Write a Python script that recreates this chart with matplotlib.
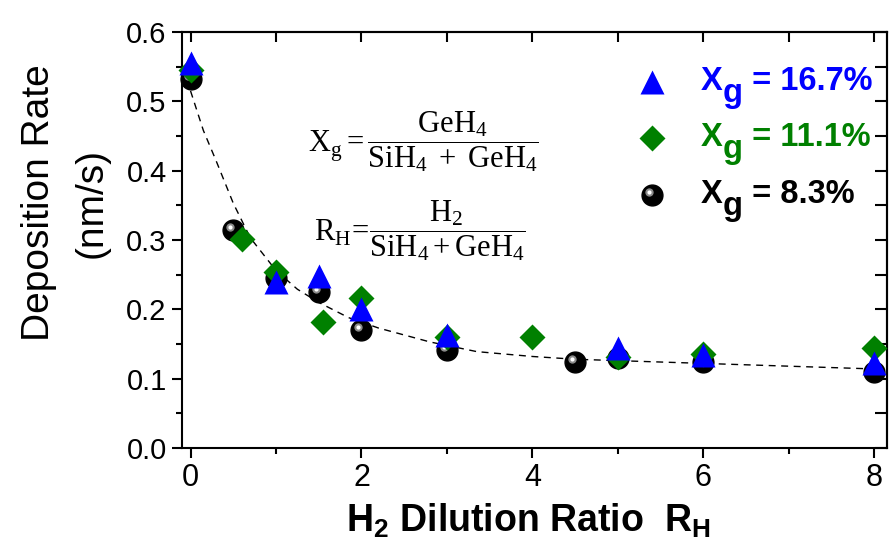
import numpy as np
import matplotlib.pyplot as plt
from matplotlib import transforms
from matplotlib.ticker import FormatStrFormatter

plt.rcParams['font.family'] = ['Liberation Sans', 'DejaVu Sans']
plt.rcParams['mathtext.fontset'] = 'custom'
plt.rcParams['mathtext.rm'] = 'Liberation Serif'
plt.rcParams['mathtext.it'] = 'Liberation Serif:italic'
plt.rcParams['mathtext.bf'] = 'Liberation Sans:bold'

# valeurs
rh_167 = [0, 1, 1.5, 2, 3, 5, 6, 8]
rate_167 = [0.555, 0.240, 0.248, 0.200, 0.163, 0.144, 0.134, 0.123]

rh_111 = [0, 0.6, 1, 1.55, 2, 3, 4, 5, 6, 8]
rate_111 = [0.545, 0.302, 0.254, 0.182, 0.216, 0.160, 0.160, 0.131, 0.136, 0.144]

rh_83 = [0, 0.5, 1, 1.5, 2, 3, 4.5, 5, 6, 8]
rate_83 = [0.532, 0.315, 0.245, 0.225, 0.170, 0.141, 0.124, 0.130, 0.124, 0.110]

# courbe en pointillés (ajustement)
fit_x = [0, 0.15, 0.3, 0.5, 0.7, 1.0, 1.25, 1.5, 1.85, 2.2, 2.8, 3.35, 4.0, 4.5, 5.0, 6.0, 7.0, 8.0]
fit_y = [0.515, 0.458, 0.414, 0.353, 0.303, 0.256, 0.229, 0.210, 0.188, 0.173,
         0.153, 0.139, 0.132, 0.128, 0.126, 0.122, 0.118, 0.114]

labels = ['16.7%', '11.1%', '8.3%']
colors = ['#0000ff', '#008000', 'black']

fig = plt.figure(figsize=(8.93, 5.6), dpi=100)
ax = fig.add_axes([0.2038, 0.2, 0.7895, 0.7429])

ax.plot(fit_x, fit_y, ls=(0, (5, 4)), color='k', lw=1.0, zorder=2)


def sphere(x, y, trans, ms=15):
    # bille noire avec reflet en haut a gauche
    ax.plot(x, y, 'o', ms=ms, color='black', mec='black', transform=trans, zorder=3, clip_on=False)
    hl = transforms.offset_copy(trans, fig=fig, x=-3, y=3, units='dots')
    ax.plot(x, y, 'o', ms=6, color='#8a8a8a', mec='none', transform=hl, zorder=3.1, clip_on=False)
    ax.plot(x, y, 'o', ms=3, color='white', mec='none', transform=hl, zorder=3.2, clip_on=False)


sphere(rh_83, rate_83, ax.transData)
ax.plot(rh_111, rate_111, 'D', ms=13, color=colors[1], mec='none', zorder=4, clip_on=False)
ax.plot(rh_167, rate_167, '^', ms=17, color=colors[0], mec='none', zorder=5, clip_on=False)

# legende faite a la main
mk_x, txt_x = 0.667, 0.736
rows = [0.880, 0.745, 0.608]
ax.plot(mk_x, rows[0], '^', ms=17, color=colors[0], mec='none', transform=ax.transAxes)
ax.plot(mk_x, rows[1], 'D', ms=13, color=colors[1], mec='none', transform=ax.transAxes)
sphere(mk_x, rows[2], ax.transAxes)
fs = 23.5
for r, lab, c in zip(rows, labels, colors):
    yb = r - 0.019
    ax.text(txt_x, yb, 'X', fontsize=fs, fontweight='bold', color=c,
            transform=ax.transAxes, va='baseline')
    tg = transforms.offset_copy(ax.transAxes, fig=fig, x=0.667 * fs, y=-8.5, units='points')
    ax.text(txt_x, yb, 'g', fontsize=fs, fontweight='bold', color=c,
            transform=tg, va='baseline')
    tr = transforms.offset_copy(ax.transAxes, fig=fig, x=(0.667 + 0.611) * fs, y=0, units='points')
    ax.text(txt_x, yb, ' = ' + lab, fontsize=fs, fontweight='bold', color=c,
            transform=tr, va='baseline')

# formules
ax.text(0.179, 0.735, r'$\mathrm{X}_{\mathrm{g}} = \dfrac{\mathrm{GeH}_{4}}{\mathrm{SiH}_{4}\ +\ \mathrm{GeH}_{4}}$',
        fontsize=22, transform=ax.transAxes, va='center', ha='left')
ax.text(0.187, 0.522, r'$\mathrm{R}_{\mathrm{H}}\!=\!\dfrac{\mathrm{H}_{2}}{\mathrm{SiH}_{4} + \mathrm{GeH}_{4}}$',
        fontsize=22, transform=ax.transAxes, va='center', ha='left')

ax.set_xlim(-0.1, 8.15)
ax.set_ylim(0, 0.6)
ax.set_xticks([0, 2, 4, 6, 8])
ax.set_xticks([1, 3, 5, 7], minor=True)
ax.set_yticks(np.arange(0, 0.61, 0.1))
ax.set_yticks(np.arange(0.05, 0.6, 0.1), minor=True)
ax.yaxis.set_major_formatter(FormatStrFormatter('%.1f'))
ax.tick_params(which='major', direction='out', length=7, width=1.5, labelsize=21, pad=4)
ax.tick_params(axis='x', which='major', labelsize=22)
ax.tick_params(which='minor', direction='out', length=4.5, width=1.5)
for s in ax.spines.values():
    s.set_linewidth(1.5)

top = ax.secondary_xaxis('top')
top.set_xticks(range(0, 9))
top.tick_params(direction='in', length=7, width=1.5, labeltop=False)
top.spines['top'].set_linewidth(1.5)
right = ax.secondary_yaxis('right')
right.set_yticks(np.arange(0, 0.61, 0.05))
right.tick_params(direction='in', length=8.5, width=1.5, labelright=False)
right.spines['right'].set_linewidth(1.5)

ax.set_ylabel('Deposition Rate\n(nm/s)', fontsize=28, linespacing=1.6)
ax.yaxis.set_label_coords(-0.102, 0.59)
ax.set_xlabel(r'$\mathbf{H_2}$ Dilution Ratio  $\mathbf{R_H}$', fontsize=27, fontweight='bold')
ax.xaxis.set_label_coords(0.491, -0.13)

fig.savefig('out.png', dpi=100)
